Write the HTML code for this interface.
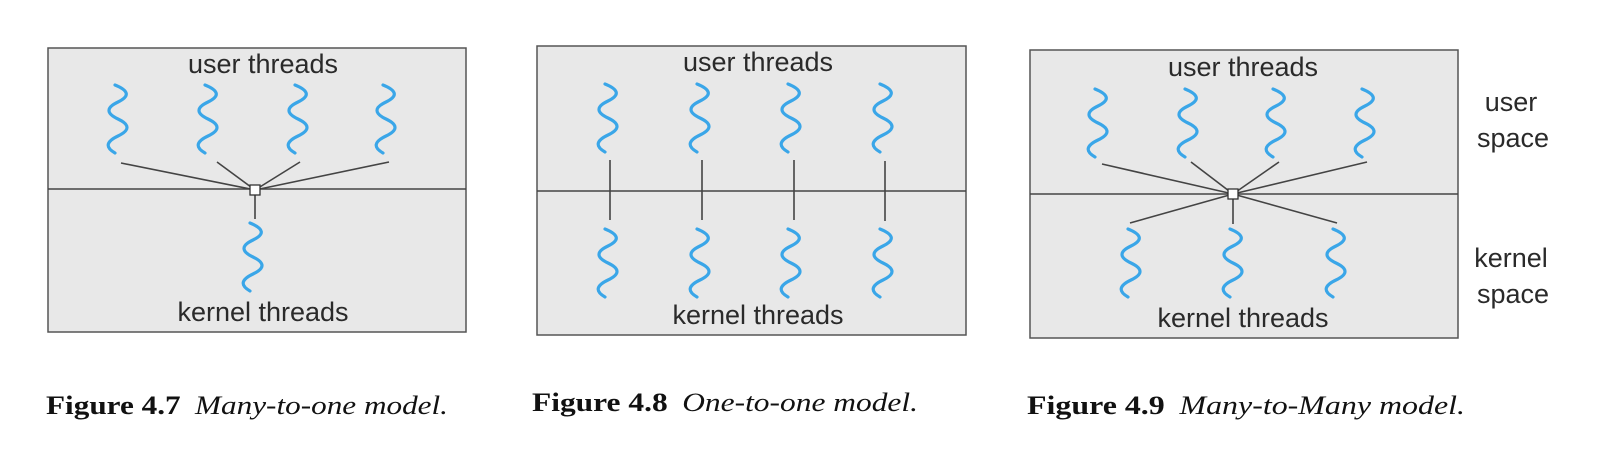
<!DOCTYPE html>
<html><head><meta charset="utf-8"><style>
html,body{margin:0;padding:0;background:#fff;}
svg{display:block}
.w{fill:none;stroke:#3aa6e8;stroke-width:3.2;stroke-linecap:round}
.b{fill:#e8e8e8;stroke:#555;stroke-width:1.5}
.l{stroke:#444;stroke-width:1.6}
.t{font-family:"Liberation Sans",sans-serif;font-size:27px;fill:#2a2a2a;text-anchor:middle}
.c{font-family:"Liberation Serif",serif;font-size:26px;fill:#111}
</style></head><body>
<svg width="1612" height="456" viewBox="0 0 1612 456" xmlns="http://www.w3.org/2000/svg">
<defs>
<path id="wg" class="w" d="M-3,0 Q18,8.5 0,17 T0,34 T0,51 T-3,68"/>
</defs>
<!-- Figure 1 -->
<rect class="b" x="48" y="48" width="418" height="284"/>
<line class="l" x1="48" y1="189" x2="466" y2="189"/>
<text class="t" x="263" y="73">user threads</text>
<text class="t" x="263" y="321">kernel threads</text>
<use href="#wg" x="118" y="85"/><use href="#wg" x="208" y="85"/><use href="#wg" x="298" y="85"/><use href="#wg" x="386" y="85"/>
<line class="l" x1="121" y1="163" x2="255" y2="190"/>
<line class="l" x1="217" y1="162" x2="255" y2="190"/>
<line class="l" x1="300" y1="162" x2="255" y2="190"/>
<line class="l" x1="389" y1="162" x2="255" y2="190"/>
<line class="l" x1="255" y1="190" x2="255" y2="219"/>
<rect x="250" y="185" width="10" height="10" fill="#fff" stroke="#333" stroke-width="1.3"/>
<use href="#wg" x="253" y="223"/>
<!-- Figure 2 -->
<rect class="b" x="537" y="46" width="429" height="289"/>
<line class="l" x1="537" y1="191" x2="966" y2="191"/>
<text class="t" x="758" y="71">user threads</text>
<text class="t" x="758" y="324">kernel threads</text>
<use href="#wg" x="608" y="84"/><use href="#wg" x="700" y="84"/><use href="#wg" x="791" y="84"/><use href="#wg" x="883" y="84"/>
<line class="l" x1="610" y1="160" x2="610" y2="220"/>
<line class="l" x1="702" y1="160" x2="702" y2="220"/>
<line class="l" x1="794" y1="160" x2="794" y2="220"/>
<line class="l" x1="885" y1="161" x2="885" y2="221"/>
<use href="#wg" x="608" y="229"/><use href="#wg" x="700" y="229"/><use href="#wg" x="791" y="229"/><use href="#wg" x="883" y="229"/>
<!-- Figure 3 -->
<rect class="b" x="1030" y="50" width="428" height="288"/>
<line class="l" x1="1030" y1="194" x2="1458" y2="194"/>
<text class="t" x="1243" y="76">user threads</text>
<text class="t" x="1243" y="327">kernel threads</text>
<use href="#wg" x="1098" y="89"/><use href="#wg" x="1188" y="89"/><use href="#wg" x="1276" y="89"/><use href="#wg" x="1365" y="89"/>
<line class="l" x1="1102" y1="164" x2="1233" y2="194"/>
<line class="l" x1="1191" y1="162" x2="1233" y2="194"/>
<line class="l" x1="1279" y1="162" x2="1233" y2="194"/>
<line class="l" x1="1367" y1="162" x2="1233" y2="194"/>
<line class="l" x1="1130" y1="223" x2="1233" y2="194"/>
<line class="l" x1="1233" y1="194" x2="1233" y2="224"/>
<line class="l" x1="1337" y1="223" x2="1233" y2="194"/>
<rect x="1228" y="189" width="10" height="10" fill="#fff" stroke="#333" stroke-width="1.3"/>
<use href="#wg" x="1131" y="229"/><use href="#wg" x="1233" y="229"/><use href="#wg" x="1336" y="229"/>
<text class="t" x="1511" y="111">user</text>
<text class="t" x="1513" y="147">space</text>
<text class="t" x="1511" y="267">kernel</text>
<text class="t" x="1513" y="303">space</text>
<!-- captions -->
<text class="c" x="46" y="414" textLength="402" lengthAdjust="spacingAndGlyphs"><tspan font-weight="bold">Figure 4.7</tspan><tspan font-style="italic" dx="12">Many-to-one model.</tspan></text>
<text class="c" x="532" y="411" textLength="386" lengthAdjust="spacingAndGlyphs"><tspan font-weight="bold">Figure 4.8</tspan><tspan font-style="italic" dx="12">One-to-one model.</tspan></text>
<text class="c" x="1027" y="414" textLength="438" lengthAdjust="spacingAndGlyphs"><tspan font-weight="bold">Figure 4.9</tspan><tspan font-style="italic" dx="12">Many-to-Many model.</tspan></text>
</svg>
</body></html>
